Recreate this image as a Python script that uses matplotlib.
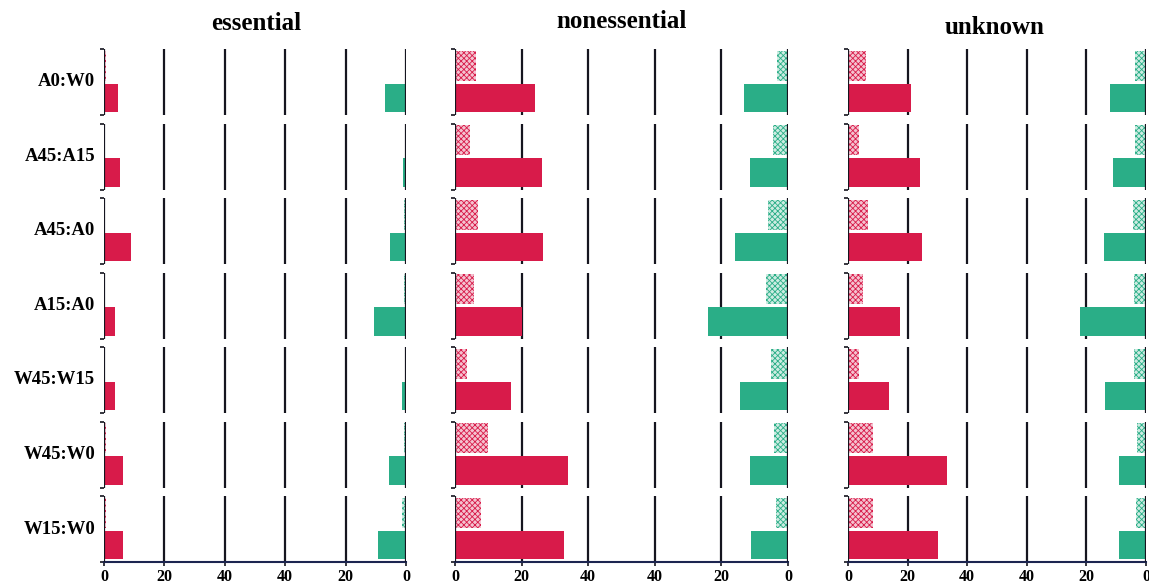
import matplotlib
matplotlib.use("Agg")
import matplotlib.pyplot as plt

plt.rcParams['font.family'] = ['Liberation Serif', 'DejaVu Serif']
plt.rcParams['font.weight'] = 'bold'
plt.rcParams['hatch.linewidth'] = 0.6

# data (percent)
rows = ['A0:W0', 'A45:A15', 'A45:A0', 'A15:A0', 'W45:W15', 'W45:W0', 'W15:W0']
groups = ['essential', 'nonessential', 'unknown']
tick_labels = ['0', '20', '40', '40', '20', '0']

ess_red_hatch = [0.7, 0, 0, 0, 0, 0.7, 0.7]
ess_red_solid = [4.7, 5.2, 8.8, 3.8, 3.6, 6.4, 6.4]
ess_green_hatch = [0, 0, 0.6, 0.6, 0, 0.6, 1.3]
ess_green_solid = [7.0, 0.9, 5.2, 10.6, 1.3, 5.6, 9.2]

non_red_hatch = [6.2, 4.5, 6.8, 5.7, 3.5, 9.8, 7.7]
non_red_solid = [24.0, 26.0, 26.5, 20.0, 16.8, 33.9, 32.8]
non_green_hatch = [3.4, 4.4, 6.0, 6.6, 5.0, 4.2, 3.5]
non_green_solid = [13.2, 11.4, 15.9, 23.9, 14.4, 11.5, 11.0]

unk_red_hatch = [6.2, 3.7, 6.7, 5.0, 3.8, 8.3, 8.3]
unk_red_solid = [21.3, 24.0, 25.0, 17.4, 13.9, 33.1, 30.3]
unk_green_hatch = [3.8, 3.8, 4.5, 4.0, 4.0, 3.1, 3.3]
unk_green_solid = [12.1, 11.1, 14.0, 22.0, 13.6, 9.1, 9.0]

panels = [
    (ess_red_hatch, ess_red_solid, ess_green_hatch, ess_green_solid),
    (non_red_hatch, non_red_solid, non_green_hatch, non_green_solid),
    (unk_red_hatch, unk_red_solid, unk_green_hatch, unk_green_solid),
]

RED = '#d81b4a'
RED_LIGHT = '#f4c3d0'
GREEN = '#2aae87'
GREEN_LIGHT = '#cdece2'
LINE = '#15151f'

W, H = 1149, 588
fig = plt.figure(figsize=(W / 100, H / 100), dpi=100)

# panel extents in pixels (left, right)
panel_x = [(104, 406), (455, 788), (848, 1146)]
title_pos = [(256, 23), (622, 21), (995, 27)]
row_top0, pitch, row_h = 49, 74.5, 66
span = 100  # red 0..40 on the left, green 40..0 on the right

for p, (rh, rs, gh, gs) in enumerate(panels):
    x0, x1 = panel_x[p]
    tx, ty = title_pos[p]
    fig.text(tx / W, 1 - ty / H, groups[p], ha='center', va='center',
             fontsize=18, fontweight='bold')
    for i, name in enumerate(rows):
        top = row_top0 + i * pitch
        ax = fig.add_axes([x0 / W, 1 - (top + row_h) / H, (x1 - x0) / W, row_h / H])
        ax.set_xlim(0, span)
        ax.set_ylim(0, 1)
        for s in ax.spines.values():
            s.set_visible(False)

        for xv in [20, 40, 60, 80]:
            ax.axvline(xv, color=LINE, lw=1.6, zorder=1)
        for xv in [0, span]:
            ax.axvline(xv, color=LINE, lw=1.6, zorder=4)

        ax.barh(0.26, rs[i], height=0.43, left=0, color=RED, lw=0, zorder=2)
        ax.barh(0.745, rh[i], height=0.45, left=0, facecolor=RED_LIGHT,
                edgecolor=RED, hatch='xxxxxx', lw=0, zorder=2)
        ax.barh(0.26, gs[i], height=0.43, left=span - gs[i], color=GREEN, lw=0, zorder=2)
        ax.barh(0.745, gh[i], height=0.45, left=span - gh[i], facecolor=GREEN_LIGHT,
                edgecolor=GREEN, hatch='xxxxxx', lw=0, zorder=2)

        ax.set_yticks([0, 1])
        ax.set_yticklabels([])
        ax.tick_params(axis='y', length=3, width=1.2, color=LINE)

        if i == len(rows) - 1:
            ax.spines['bottom'].set_visible(True)
            ax.spines['bottom'].set_color('#1c2550')
            ax.spines['bottom'].set_linewidth(1.5)
            ax.set_xticks([0, 20, 40, 60, 80, 100])
            ax.set_xticklabels(tick_labels, fontsize=11.5, fontweight='bold')
            ax.tick_params(axis='x', length=3, width=1.2, pad=2, color=LINE)
        else:
            ax.set_xticks([])

        if p == 0:
            fig.text(95 / W, 1 - (top + row_h / 2) / H, name, ha='right', va='center',
                     fontsize=13.5, fontweight='bold')

fig.savefig('out.png', dpi=100)
